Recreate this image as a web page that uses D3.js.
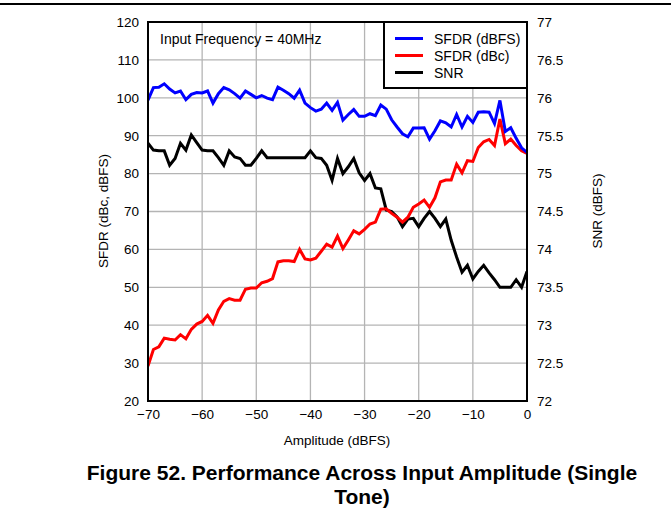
<!DOCTYPE html>
<html><head><meta charset="utf-8">
<script src="https://cdn.jsdelivr.net/npm/d3@7"></script>
<style>body{margin:0;background:#fff;font-family:"Liberation Sans",Arial,sans-serif}</style>
</head><body>
<svg id="c" width="671" height="523"></svg>
<script>
const amplitude = d3.range(-70, 1, 1);
const sfdrDbfs = [99.4,102.7,102.8,103.7,102.3,101.3,101.8,99.5,100.9,101.4,101.3,101.8,98.6,101.1,102.7,102.1,101.1,99.9,101.8,100.9,100.0,100.6,99.9,99.5,102.8,102.0,101.1,99.9,102.0,98.6,97.4,96.5,97.0,98.6,96.7,98.8,94.1,95.6,96.9,95.1,95.1,95.8,95.3,98.1,97.0,94.2,92.3,90.5,89.7,92.0,92.0,92.1,89.1,91.3,93.9,93.4,92.3,95.6,92.3,95.1,93.5,96.2,96.3,96.2,93.2,99.3,91.1,92.1,89.3,86.8,85.6];
const sfdrDbc = [29.2,33.6,34.3,36.6,36.3,36.1,37.5,36.4,38.9,40.3,41.0,42.6,40.5,44.0,46.3,47.0,46.6,46.6,49.5,49.8,49.8,51.2,51.6,52.3,56.7,57.0,57.0,56.8,60.0,57.5,57.2,57.7,59.5,61.4,60.6,63.5,60.2,62.5,64.9,64.1,65.3,66.7,67.2,70.6,70.7,69.5,68.5,67.2,68.5,71.1,72.0,73.0,71.1,73.6,77.8,78.3,78.3,82.5,80.2,83.4,83.2,86.9,88.4,89.0,87.4,94.4,87.9,89.1,87.4,86.0,85.3];
const snr = [75.40,75.31,75.30,75.30,75.11,75.20,75.40,75.31,75.51,75.41,75.31,75.30,75.30,75.21,75.11,75.30,75.22,75.20,75.11,75.11,75.20,75.30,75.21,75.21,75.21,75.21,75.21,75.21,75.21,75.21,75.30,75.21,75.20,75.11,74.91,75.20,75.00,75.09,75.20,75.01,74.91,75.00,74.81,74.80,74.52,74.50,74.43,74.30,74.40,74.41,74.30,74.41,74.50,74.41,74.30,74.40,74.12,73.90,73.70,73.79,73.61,73.71,73.79,73.69,73.60,73.50,73.50,73.50,73.60,73.50,73.71];
const xTicks = [-70,-60,-50,-40,-30,-20,-10,0];
const yLeftTicks = [20,30,40,50,60,70,80,90,100,110,120];
const yRightTicks = [72,72.5,73,73.5,74,74.5,75,75.5,76,76.5,77];
const seriesNames = ["SFDR (dBFS)","SFDR (dBc)","SNR"];
const seriesColors = ["#0000ff","#ff0000","#000000"];

const svg = d3.select("#c");
const L=148, R=527, T=22, B=401;
const x = d3.scaleLinear().domain([-70,0]).range([L,R]);
const yL = d3.scaleLinear().domain([20,120]).range([B,T]);
const yR = d3.scaleLinear().domain([72,77]).range([B,T]);

svg.append("line").attr("x1",0).attr("x2",671).attr("y1",4).attr("y2",4).attr("stroke","#000").attr("stroke-width",2);

// grid
svg.append("g").selectAll("line").data(xTicks.slice(1,-1)).join("line")
  .attr("x1",d=>x(d)).attr("x2",d=>x(d)).attr("y1",T).attr("y2",B)
  .attr("stroke","#b4b4b4").attr("stroke-width",1.3);
svg.append("g").selectAll("line").data(yLeftTicks.slice(1,-1)).join("line")
  .attr("x1",L).attr("x2",R).attr("y1",d=>yL(d)).attr("y2",d=>yL(d))
  .attr("stroke","#b4b4b4").attr("stroke-width",1.3);

const fmt = d=> d<0 ? "\u2212"+Math.abs(d) : String(d);
const ax = svg.append("g").attr("transform",`translate(0,${B})`)
  .call(d3.axisBottom(x).tickValues(xTicks).tickFormat(fmt).tickSize(0).tickPadding(8));
const al = svg.append("g").attr("transform",`translate(${L},0)`)
  .call(d3.axisLeft(yL).tickValues(yLeftTicks).tickSize(0).tickPadding(9));
const ar = svg.append("g").attr("transform",`translate(${R},0)`)
  .call(d3.axisRight(yR).tickValues(yRightTicks).tickFormat(d=>String(d)).tickSize(0).tickPadding(10));
[ax,al,ar].forEach(g=>{g.select(".domain").remove();
  g.selectAll("text").attr("font-size",13.5).attr("fill","#000").attr("font-family","Liberation Sans, Arial, sans-serif");});

// lines
const lineL = d3.line().x((d,i)=>x(amplitude[i])).y(d=>yL(d));
const lineR = d3.line().x((d,i)=>x(amplitude[i])).y(d=>yR(d));
svg.append("clipPath").attr("id","pc").append("rect").attr("x",L).attr("y",T).attr("width",R-L).attr("height",B-T);
const pg = svg.append("g").attr("clip-path","url(#pc)");
pg.append("path").attr("d",lineR(snr)).attr("fill","none").attr("stroke",seriesColors[2]).attr("stroke-width",3);
pg.append("path").attr("d",lineL(sfdrDbc)).attr("fill","none").attr("stroke",seriesColors[1]).attr("stroke-width",3);
pg.append("path").attr("d",lineL(sfdrDbfs)).attr("fill","none").attr("stroke",seriesColors[0]).attr("stroke-width",3);

// frame
svg.append("rect").attr("x",L).attr("y",T).attr("width",R-L).attr("height",B-T).attr("fill","none").attr("stroke","#000").attr("stroke-width",2);

// annotation
svg.append("text").attr("x",160).attr("y",44).attr("font-size",14).text("Input Frequency = 40MHz");

// legend
const lg = svg.append("g");
lg.append("rect").attr("x",384).attr("y",T).attr("width",R-384).attr("height",66).attr("fill","#fff").attr("stroke","#000").attr("stroke-width",2);
seriesNames.forEach((n,i)=>{
  const yy = 38.5 + i*17;
  lg.append("line").attr("x1",395).attr("x2",423).attr("y1",yy).attr("y2",yy).attr("stroke",seriesColors[i]).attr("stroke-width",3);
  lg.append("text").attr("x",434).attr("y",yy+5).attr("font-size",14).text(n);
});

// axis titles
svg.append("text").attr("transform","translate(108,211) rotate(-90)").attr("text-anchor","middle").attr("font-size",13.5).text("SFDR (dBc, dBFS)");
svg.append("text").attr("transform","translate(602,211) rotate(-90)").attr("text-anchor","middle").attr("font-size",13.5).text("SNR (dBFS)");
svg.append("text").attr("x",337).attr("y",445).attr("text-anchor","middle").attr("font-size",13.5).text("Amplitude (dBFS)");
svg.append("text").attr("x",362).attr("y",480).attr("text-anchor","middle").attr("font-size",21).attr("font-weight","bold").text("Figure 52. Performance Across Input Amplitude (Single");
svg.append("text").attr("x",362).attr("y",504).attr("text-anchor","middle").attr("font-size",21).attr("font-weight","bold").text("Tone)");
</script>
</body></html>
